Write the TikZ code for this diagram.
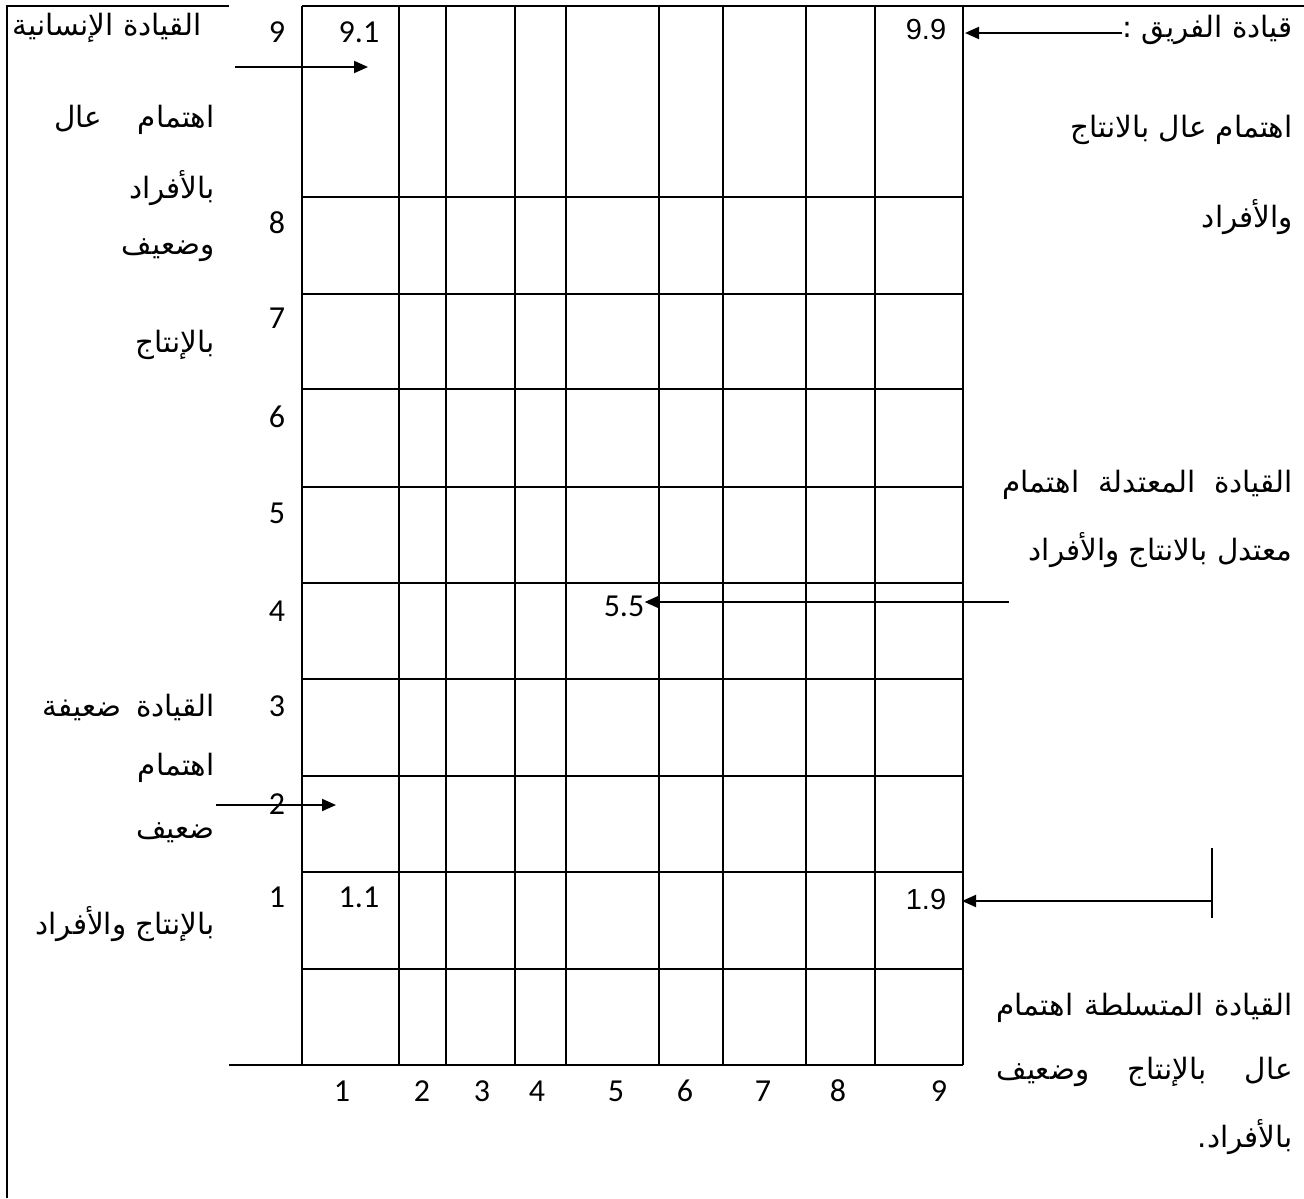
\documentclass[tikz,border=0pt]{standalone}
\usepackage{fontspec}
\usetikzlibrary{arrows.meta}
\TeXXeTstate=1
\newfontfamily\arabicfont[Script=Arabic]{DejaVu Sans}
\newfontfamily\calfont{Carlito}
\newfontfamily\arialfont{Liberation Sans}
\tikzset{
  rule/.style={line width=1.1pt},
  num/.style={font=\calfont\fontsize{16}{18}\selectfont, inner sep=0pt},
  numarial/.style={font=\arialfont\fontsize{14.5}{17}\selectfont, inner sep=0pt},
  arlabel/.style={font=\arabicfont\fontsize{14.7}{17}\selectfont, inner sep=0pt, anchor=east},
  pointer/.style={-{Triangle[length=7pt,width=6pt]}, line width=1pt},
}
\begin{document}
\begin{tikzpicture}[x=0.5pt, y=-0.5pt]
  \useasboundingbox (0,0) rectangle (1304,1198);
  % frame and grid
  \draw[rule] (7,1198) -- (7,6) -- (229,6);
  \draw[rule] (302,6) -- (1304,6);
  \foreach \x in {302,399,446,515,566,659,723,806,875,963}
    \draw[rule] (\x,6) -- (\x,1065);
  \foreach \y in {197,294,389,487,583,679,776,872,969}
    \draw[rule] (302,\y) -- (963,\y);
  \draw[rule] (229,1065) -- (963,1065);

  % scale labels
  \foreach \n/\y in {9/32,8/223,7/318,6/417,5/513,4/611,3/706,2/804,1/897}
    \node[num] (r\n) at (277,\y) {\n};
  \foreach \n/\x in {1/342,2/422,3/482,4/537,5/616,6/685,7/763,8/838,9/939}
    \node[num] (c\n) at (\x,1091) {\n};

  % grid points
  \node[num] (v91) at (359,32) {9.1};
  \node[num] (v11) at (359,897) {1.1};
  \node[num] (v55) at (624,606) {5.5};
  \node[numarial] (v99) at (926,30) {9.9};
  \node[numarial] (v19) at (926,900) {1.9};

  % left column
  \node[arlabel] (humane) at (202,28) {\beginR القيادة الإنسانية\endR};
  \node[arlabel] (humane2) at (215,120) {\makebox[80pt][s]{\beginR اهتمام عال\endR}};
  \node[arlabel] (humane3) at (215,188) {\beginR بالأفراد\endR};
  \node[arlabel] (humane4) at (215,250) {\beginR وضعيف\endR};
  \node[arlabel] (humane5) at (215,345) {\beginR بالإنتاج\endR};
  \node[arlabel] (weak) at (215,707) {\makebox[86pt][s]{\beginR القيادة ضعيفة\endR}};
  \node[arlabel] (weak2) at (215,768) {\beginR اهتمام\endR};
  \node[arlabel] (weak3) at (215,833) {\beginR ضعيف\endR};
  \node[arlabel] (weak4) at (215,924) {\beginR بالإنتاج والأفراد\endR};

  % right column
  \node[arlabel] (team) at (1293,30) {\beginR قيادة الفريق :\endR};
  \node[arlabel] (team2) at (1293,130) {\beginR اهتمام عال بالانتاج\endR};
  \node[arlabel] (team3) at (1293,217) {\beginR والأفراد\endR};
  \node[arlabel] (middle) at (1293,485) {\makebox[145pt][s]{\beginR القيادة المعتدلة اهتمام\endR}};
  \node[arlabel] (middle2) at (1293,550) {\beginR معتدل بالانتاج والأفراد\endR};
  \node[arlabel] (autoc) at (1293,1008) {\makebox[148pt][s]{\beginR القيادة المتسلطة اهتمام\endR}};
  \node[arlabel] (autoc2) at (1293,1072) {\makebox[148pt][s]{\beginR عال بالإنتاج وضعيف\endR}};
  \node[arlabel] (autoc3) at (1293,1137) {\beginR بالأفراد.\endR};

  % pointers
  \coordinate (p91a) at (235,67);
  \coordinate (p91b) at (368,67);
  \draw[pointer] (p91a) -- (p91b);
  \coordinate (p2a) at (216,805);
  \coordinate (p2b) at (336,805);
  \draw[pointer] (p2a) -- (p2b);
  \coordinate (p99b) at (965,33);
  \draw[pointer] (team.west |- p99b) -- (p99b);
  \coordinate (p55a) at (1009,602);
  \draw[pointer] (p55a) -- (v55.east |- p55a);
  \coordinate (p19a) at (1212,901);
  \coordinate (p19b) at (962,901);
  \draw[pointer] (p19a) -- (p19b);
  \coordinate (bartop) at (1212,848);
  \coordinate (barbot) at (1212,918);
  \draw[line width=1pt] (bartop) -- (barbot);
\end{tikzpicture}
\end{document}
